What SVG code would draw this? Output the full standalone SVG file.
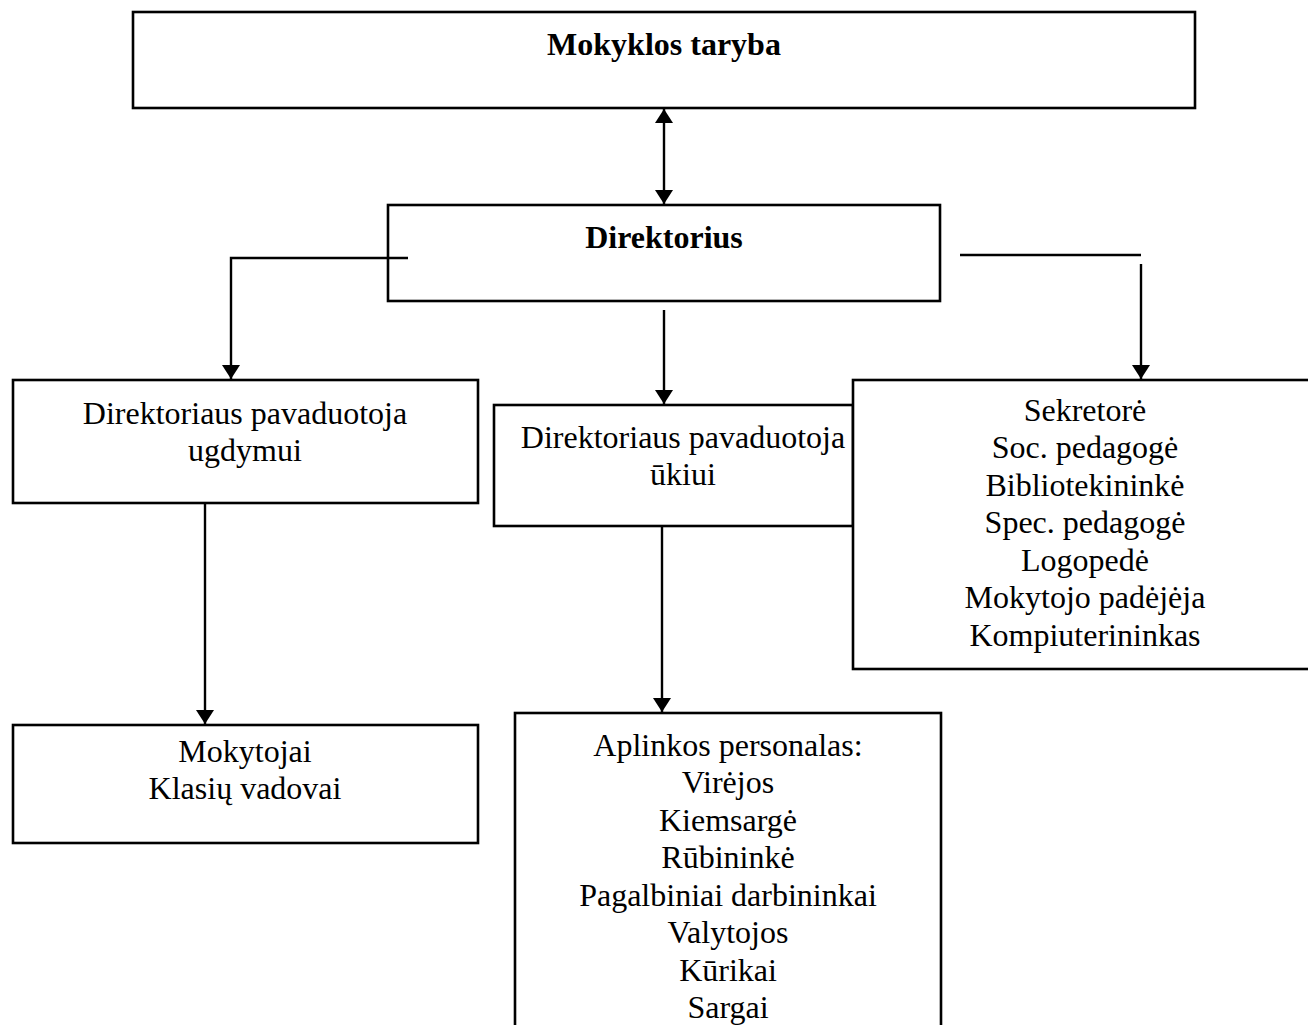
<svg xmlns="http://www.w3.org/2000/svg" width="1308" height="1025" viewBox="0 0 1308 1025">
<style>
.box{fill:#fff;stroke:#000;stroke-width:2.6}
.t{font-family:"Liberation Serif","Times New Roman",serif;font-size:32px;fill:#000;text-anchor:middle}
.b{font-weight:bold}
.c{fill:none;stroke:#000;stroke-width:2.4}
</style>
<defs>
<marker id="ah" viewBox="0 0 14 18" refX="14" refY="9" markerWidth="14" markerHeight="18" markerUnits="userSpaceOnUse" orient="auto-start-reverse">
<path d="M0,0 L14,9 L0,18 Z" fill="#000"/>
</marker>
</defs>
<rect width="1308" height="1025" fill="#fff"/>
<g id="n-taryba"><rect class="box" x="133" y="12" width="1062" height="96"/><text class="t b" x="664" y="55">Mokyklos taryba</text></g>
<g id="n-direktorius"><rect class="box" x="388" y="205" width="552" height="96"/><text class="t b" x="664" y="248">Direktorius</text></g>
<g id="n-ugdymui"><rect class="box" x="13" y="380" width="465" height="123"/><text class="t" x="245" y="424">Direktoriaus pavaduotoja</text><text class="t" x="245" y="461">ugdymui</text></g>
<g id="n-ukiui"><rect class="box" x="494" y="405" width="359" height="121"/><text class="t" x="683" y="448">Direktoriaus pavaduotoja</text><text class="t" x="683" y="485">ūkiui</text></g>
<g id="n-personalas"><rect class="box" x="853" y="380" width="470" height="289"/><text class="t" x="1085" y="421">Sekretorė</text><text class="t" x="1085" y="458">Soc. pedagogė</text><text class="t" x="1085" y="496">Bibliotekininkė</text><text class="t" x="1085" y="533">Spec. pedagogė</text><text class="t" x="1085" y="571">Logopedė</text><text class="t" x="1085" y="608">Mokytojo padėjėja</text><text class="t" x="1085" y="646">Kompiuterininkas</text></g>
<g id="n-mokytojai"><rect class="box" x="13" y="725" width="465" height="118"/><text class="t" x="245" y="762">Mokytojai</text><text class="t" x="245" y="799">Klasių vadovai</text></g>
<g id="n-aplinkos"><rect class="box" x="515" y="713" width="426" height="330"/><text class="t" x="728" y="756">Aplinkos personalas:</text><text class="t" x="728" y="793">Virėjos</text><text class="t" x="728" y="831">Kiemsargė</text><text class="t" x="728" y="868">Rūbininkė</text><text class="t" x="728" y="906">Pagalbiniai darbininkai</text><text class="t" x="728" y="943">Valytojos</text><text class="t" x="728" y="981">Kūrikai</text><text class="t" x="728" y="1018">Sargai</text></g>
<g id="connectors">
<line class="c" x1="664" y1="109" x2="664" y2="204" marker-start="url(#ah)" marker-end="url(#ah)"/>
<polyline class="c" points="408,258 231,258 231,379" marker-end="url(#ah)"/>
<line class="c" x1="664" y1="310" x2="664" y2="404" marker-end="url(#ah)"/>
<line class="c" x1="960" y1="255" x2="1141" y2="255"/>
<line class="c" x1="1141" y1="264" x2="1141" y2="379" marker-end="url(#ah)"/>
<line class="c" x1="205" y1="503" x2="205" y2="724" marker-end="url(#ah)"/>
<line class="c" x1="662" y1="526" x2="662" y2="712" marker-end="url(#ah)"/>
</g>
</svg>
